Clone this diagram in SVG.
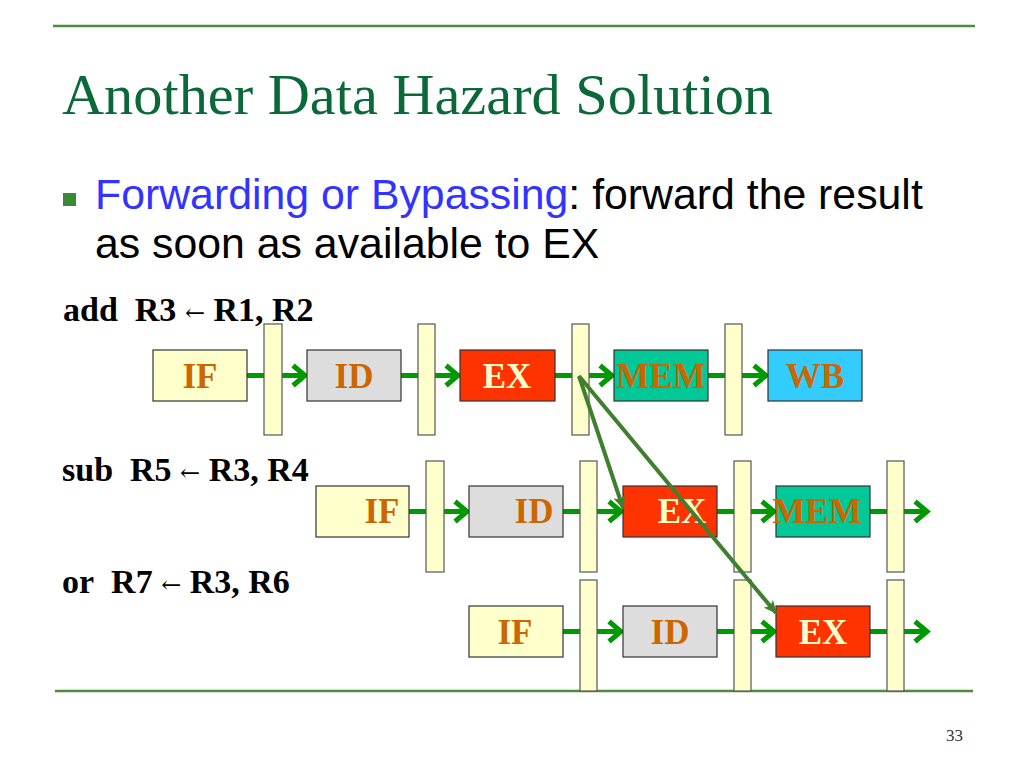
<svg xmlns="http://www.w3.org/2000/svg" width="1024" height="768" viewBox="0 0 1024 768">
<defs>
<style>
.rule{stroke:#4C8C3C;stroke-width:2.5;fill:none}
.title{font-family:"Liberation Serif","Times New Roman",serif;font-size:58px;fill:#0B6838}
.bul{font-family:"Liberation Sans",Arial,sans-serif;font-size:42.8px;fill:#000}
.blue{fill:#3333FF}
.instr{font-family:"Liberation Serif","Times New Roman",serif;font-size:34px;font-weight:bold;fill:#000}
.arr{font-size:24px;font-weight:normal;font-family:"DejaVu Serif","Liberation Serif",serif}
.box{stroke:#333;stroke-width:1.2}
.if{fill:#FFFFCC}
.id{fill:#DDDDDD}
.ex{fill:#FF3300}
.mem{fill:#00C896}
.wb{fill:#33CCFF}
.latch{fill:#FFFFCC;stroke:#555;stroke-width:1.2}
.lbl{font-family:"Liberation Serif","Times New Roman",serif;font-size:35px;font-weight:bold;fill:#CC6600;text-anchor:middle}
.lbl.light{fill:#FFFFCC}
.pipe{stroke:#009900;stroke-width:5;fill:none;marker-end:url(#chev)}
.fwd{stroke:#3F7F2F;stroke-width:4;fill:none;marker-end:url(#tri)}
.pg{font-family:"Liberation Serif","Times New Roman",serif;font-size:17px;fill:#333}
</style>
<marker id="chev" viewBox="0 0 20 26" refX="17" refY="13" markerWidth="20" markerHeight="26" markerUnits="userSpaceOnUse" orient="auto">
<path d="M4,3 L16,13 L4,23" fill="none" stroke="#009900" stroke-width="5" stroke-linejoin="miter"/>
</marker>
<marker id="tri" viewBox="0 0 14 12" refX="12" refY="6" markerWidth="14" markerHeight="12" markerUnits="userSpaceOnUse" orient="auto">
<path d="M0,0 L13,6 L0,12 L3,6 Z" fill="#3F7F2F"/>
</marker>
</defs>
<rect width="1024" height="768" fill="#FFFFFF"/>
<line class="rule" x1="53" y1="26" x2="975" y2="26"/>
<line class="rule" x1="55" y1="691" x2="973" y2="691"/>
<text class="title" x="62" y="114" textLength="711" lengthAdjust="spacingAndGlyphs">Another Data Hazard Solution</text>
<rect x="63" y="193" width="13" height="13" fill="#3A8A35"/>
<text class="bul" x="95" y="209"><tspan class="blue">Forwarding or Bypassing</tspan>: forward the result</text>
<text class="bul" x="95" y="258">as soon as available to EX</text>
<text class="instr" x="63" y="321">add&#160; R3 <tspan class="arr">←</tspan> R1, R2</text>
<text class="instr" x="62" y="481">sub&#160; R5 <tspan class="arr">←</tspan> R3, R4</text>
<text class="instr" x="62" y="593">or&#160; R7 <tspan class="arr">←</tspan> R3, R6</text>

<g id="connectors-pipeline">
<line class="pipe" x1="247" y1="375.5" x2="306" y2="375.5"/>
<line class="pipe" x1="401" y1="375.5" x2="459" y2="375.5"/>
<line class="pipe" x1="555" y1="375.5" x2="613" y2="375.5"/>
<line class="pipe" x1="708" y1="375.5" x2="767" y2="375.5"/>
<line class="pipe" x1="409" y1="511.5" x2="468" y2="511.5"/>
<line class="pipe" x1="563" y1="511.5" x2="622" y2="511.5"/>
<line class="pipe" x1="717" y1="511.5" x2="775" y2="511.5"/>
<line class="pipe" x1="870" y1="511.5" x2="928" y2="511.5"/>
<line class="pipe" x1="563" y1="631.5" x2="622" y2="631.5"/>
<line class="pipe" x1="717" y1="631.5" x2="775" y2="631.5"/>
<line class="pipe" x1="870" y1="631.5" x2="928" y2="631.5"/>
</g>

<g id="row1">
<g id="r1-if"><rect class="box if" x="153" y="350" width="94" height="51"/><text class="lbl" x="200" y="388">IF</text></g>
<g id="r1-id"><rect class="box id" x="307" y="350" width="94" height="51"/><text class="lbl" x="354" y="388">ID</text></g>
<g id="r1-ex"><rect class="box ex" x="460" y="350" width="95" height="51"/><text class="lbl light" x="507" y="388">EX</text></g>
<g id="r1-mem"><rect class="box mem" x="614" y="350" width="94" height="51"/><text class="lbl" x="661" y="388">MEM</text></g>
<g id="r1-wb"><rect class="box wb" x="768" y="350" width="94" height="51"/><text class="lbl" x="815" y="388">WB</text></g>
<g id="r1-latch1"><rect class="latch" x="264" y="324" width="18" height="111"/></g>
<g id="r1-latch2"><rect class="latch" x="418" y="324" width="17" height="111"/></g>
<g id="r1-latch3"><rect class="latch" x="572" y="324" width="17" height="111"/></g>
<g id="r1-latch4"><rect class="latch" x="725" y="324" width="17" height="111"/></g>
</g>

<g id="row2">
<g id="r2-if"><rect class="box if" x="316" y="486" width="93" height="51"/><text class="lbl" x="382" y="523">IF</text></g>
<g id="r2-id"><rect class="box id" x="469" y="486" width="94" height="51"/><text class="lbl" x="534" y="523">ID</text></g>
<g id="r2-ex"><rect class="box ex" x="623" y="486" width="94" height="51"/><text class="lbl light" x="682" y="523">EX</text></g>
<g id="r2-mem"><rect class="box mem" x="776" y="486" width="94" height="51"/><text class="lbl" x="817" y="523">MEM</text></g>
<g id="r2-latch1"><rect class="latch" x="426" y="461" width="18" height="111"/></g>
<g id="r2-latch2"><rect class="latch" x="580" y="461" width="17" height="111"/></g>
<g id="r2-latch3"><rect class="latch" x="734" y="461" width="17" height="111"/></g>
<g id="r2-latch4"><rect class="latch" x="887" y="461" width="17" height="111"/></g>
</g>

<g id="row3">
<g id="r3-if"><rect class="box if" x="469" y="606" width="94" height="51"/><text class="lbl" x="515" y="644">IF</text></g>
<g id="r3-id"><rect class="box id" x="623" y="606" width="94" height="51"/><text class="lbl" x="670" y="644">ID</text></g>
<g id="r3-ex"><rect class="box ex" x="776" y="606" width="94" height="51"/><text class="lbl light" x="823" y="644">EX</text></g>
<g id="r3-latch1"><rect class="latch" x="580" y="580" width="17" height="111"/></g>
<g id="r3-latch2"><rect class="latch" x="734" y="580" width="17" height="111"/></g>
<g id="r3-latch3"><rect class="latch" x="887" y="580" width="17" height="111"/></g>
</g>

<g id="connectors-forwarding">
<line class="fwd" x1="579" y1="376" x2="623" y2="508"/>
<line class="fwd" x1="579" y1="376" x2="776" y2="613"/>
</g>

<text class="pg" x="946" y="741">33</text>
</svg>
